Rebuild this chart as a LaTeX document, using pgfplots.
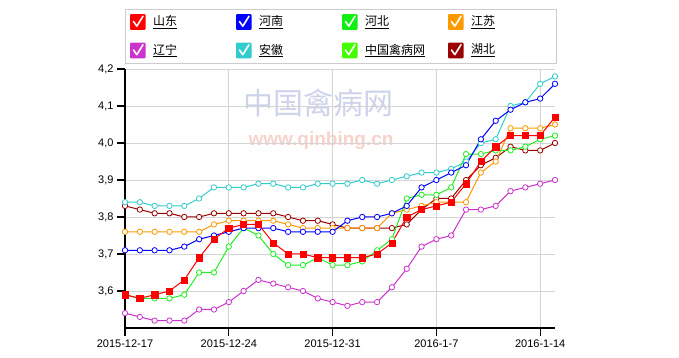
\documentclass[border=0pt]{standalone}
\usepackage{pgfplots}
\pgfplotsset{compat=1.18}
\usepackage{pgfplotstable}
\usepackage{fontspec}
\setmainfont{Liberation Sans}
\newfontfamily\cjk{Noto Sans CJK SC}

\definecolor{cRed}{HTML}{FF0000}
\definecolor{cBlue}{HTML}{0000FF}
\definecolor{cGreen}{HTML}{22EE22}
\definecolor{cGreenBox}{HTML}{11EE11}
\definecolor{cGreenTwo}{HTML}{44FF00}
\definecolor{cOrange}{HTML}{FF9900}
\definecolor{cPurple}{HTML}{CC33CC}
\definecolor{cCyan}{HTML}{33CCCC}
\definecolor{cDark}{HTML}{990000}
\definecolor{cGrid}{HTML}{D4D4D4}
\definecolor{cWmBlue}{HTML}{CDD3EA}
\definecolor{cWmPink}{HTML}{F7D2CA}

\pgfplotstableread{
day sd hn hb js ln ah hub
0 3.59 3.71 3.59 3.76 3.54 3.84 3.83
1 3.58 3.71 3.58 3.76 3.53 3.84 3.82
2 3.59 3.71 3.58 3.76 3.52 3.83 3.81
3 3.60 3.71 3.58 3.76 3.52 3.83 3.81
4 3.63 3.72 3.59 3.76 3.52 3.83 3.80
5 3.69 3.74 3.65 3.76 3.55 3.85 3.80
6 3.74 3.75 3.65 3.78 3.55 3.88 3.81
7 3.77 3.76 3.72 3.79 3.57 3.88 3.81
8 3.78 3.77 3.77 3.79 3.60 3.88 3.81
9 3.78 3.77 3.75 3.79 3.63 3.89 3.81
10 3.73 3.77 3.70 3.79 3.62 3.89 3.81
11 3.70 3.76 3.67 3.78 3.61 3.88 3.80
12 3.70 3.76 3.67 3.77 3.60 3.88 3.79
13 3.69 3.76 3.69 3.77 3.58 3.89 3.79
14 3.69 3.76 3.67 3.77 3.57 3.89 3.78
15 3.69 3.79 3.67 3.77 3.56 3.89 3.77
16 3.69 3.80 3.68 3.77 3.57 3.90 3.77
17 3.70 3.80 3.71 3.77 3.57 3.89 3.77
18 3.73 3.81 3.74 3.81 3.61 3.90 3.77
19 3.80 3.83 3.85 3.82 3.66 3.91 3.78
20 3.82 3.88 3.86 3.83 3.72 3.92 3.82
21 3.83 3.90 3.86 3.84 3.74 3.92 3.85
22 3.84 3.92 3.88 3.84 3.75 3.93 3.85
23 3.89 3.94 3.97 3.84 3.82 3.95 3.90
24 3.95 4.01 3.97 3.92 3.82 4.00 3.94
25 3.99 4.06 3.98 3.95 3.83 4.01 3.96
26 4.02 4.09 3.98 4.04 3.87 4.10 3.99
27 4.02 4.11 3.99 4.04 3.88 4.11 3.98
28 4.02 4.12 4.01 4.04 3.89 4.16 3.98
29 4.07 4.16 4.02 4.05 3.90 4.18 4.00
}\datatable

\begin{document}
\begin{tikzpicture}
\path[use as bounding box] (0pt,0pt) rectangle (679pt,358pt);
% watermark
\node[text=cWmBlue, font=\cjk\fontsize{30}{32}\selectfont, anchor=center] at (318pt,255pt) {中国禽病网};
\node[text=cWmPink, font=\bfseries\fontsize{19}{21}\selectfont, anchor=center] at (321pt,217pt) {www.qinbing.cn};

\begin{axis}[
  at={(125pt,30pt)}, anchor=south west,
  scale only axis, width=430pt, height=259pt,
  xmin=0, xmax=29, ymin=3.5, ymax=4.2,
  axis lines=left,
  axis line style={-, black, line width=2pt},
  xtick={0,7,14,21,28},
  xticklabels={2015-12-17,2015-12-24,2015-12-31,2016-1-7,2016-1-14},
  ytick={3.6,3.7,3.8,3.9,4.0,4.1,4.2},
  yticklabel style={/pgf/number format/.cd, use comma, fixed, fixed zerofill, precision=1, assume math mode=true},
  tick label style={font=\fontsize{11}{13}\selectfont, black},
  tick align=outside, major tick length=8pt,
  tick style={black, line width=1.2pt},
  grid=major, grid style={cGrid, line width=0.8pt},
  clip=false,
  every axis plot/.append style={line width=1pt},
]
\addplot[cDark, mark=*, mark size=2.7pt, mark options={fill=white, line width=0.8pt}] table[x=day,y=hub] {\datatable};
\addplot[cCyan, mark=*, mark size=2.7pt, mark options={fill=white, line width=0.8pt}] table[x=day,y=ah] {\datatable};
\addplot[cPurple, mark=*, mark size=2.7pt, mark options={fill=white, line width=0.8pt}] table[x=day,y=ln] {\datatable};
\addplot[cOrange, mark=*, mark size=2.7pt, mark options={fill=white, line width=0.8pt}] table[x=day,y=js] {\datatable};
\addplot[cGreen, mark=*, mark size=2.7pt, mark options={fill=white, line width=0.8pt}] table[x=day,y=hb] {\datatable};
\addplot[cBlue, mark=*, mark size=2.7pt, mark options={fill=white, line width=0.8pt}] table[x=day,y=hn] {\datatable};
\addplot[cRed, mark=square*, mark size=3.1pt, mark options={fill=cRed, line width=0.5pt}] table[x=day,y=sd] {\datatable};
\end{axis}

% legend
\draw[gray!40, line width=0.8pt] (125pt,295pt) rectangle (556pt,349pt);
\foreach \col/\row/\lab [count=\i] in {
  cRed/0/山东, cBlue/0/河南, cGreenBox/0/河北, cOrange/0/江苏,
  cPurple/1/辽宁, cCyan/1/安徽, cGreenTwo/1/中国禽病网, cDark/1/湖北}{
  \pgfmathsetmacro{\xx}{130+106*mod(\i-1,4)}
  \pgfmathsetmacro{\yy}{336-28.5*\row}
  \fill[\col, rounded corners=1pt] (\xx pt,\yy pt-7.8pt) rectangle (\xx pt+15.5pt,\yy pt+7.8pt);
  \draw[white, line width=1.6pt, line cap=round, line join=round] (\xx pt+3.5pt,\yy pt+0.5pt) -- (\xx pt+6.8pt,\yy pt-4.2pt) -- (\xx pt+13pt,\yy pt+5.8pt);
  \node[anchor=west, inner sep=0pt, font=\cjk\fontsize{12}{14}\selectfont] at (\xx pt+23pt,\yy pt) {\underline{\lab}};
}
\end{tikzpicture}
\end{document}
